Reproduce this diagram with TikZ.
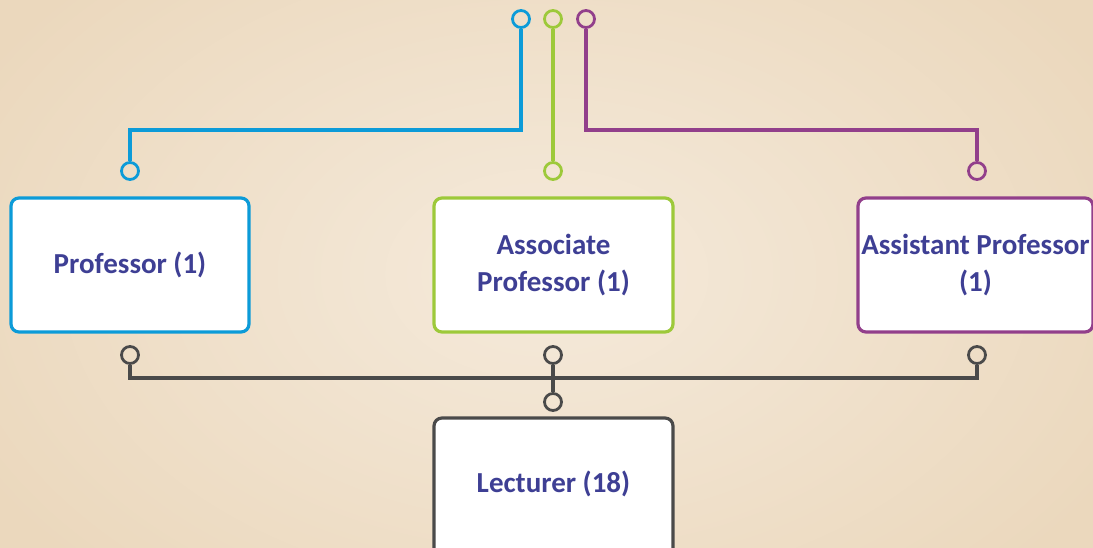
\documentclass[tikz,border=0pt]{standalone}
\usepackage{fontspec}
\setmainfont{Carlito}
\definecolor{cblue}{HTML}{0C9BD8}
\definecolor{cgreen}{HTML}{9DC93A}
\definecolor{cpurple}{HTML}{923F8B}
\definecolor{cgray}{HTML}{4A4A4A}
\definecolor{ctext}{HTML}{3E3F94}
\definecolor{bgin}{HTML}{F5EADB}
\definecolor{bgout}{HTML}{EBD8BD}
\begin{document}
\begin{tikzpicture}[x=1pt,y=-1pt,
  box/.style={line width=3.2pt,rounded corners=8pt,fill=white,inner sep=0pt,
    text=ctext,font=\fontsize{29}{37}\selectfont\bfseries,align=center},
  ring/.style={draw,circle,line width=2.8pt,minimum size=17pt,inner sep=0pt},
  conn/.style={line width=3.3pt}]
\useasboundingbox (0,0) rectangle (1093,548);
\clip (0,0) rectangle (1093,548);
\shade[inner color=bgin,outer color=bgout] (-100,-150) rectangle (1193,698);
% top rings
\node[ring,draw=cblue] (tb) at (521,19) {};
\node[ring,draw=cgreen] (tg) at (553,19) {};
\node[ring,draw=cpurple] (tp) at (586,19) {};
% upper rings of boxes
\node[ring,draw=cblue] (pt) at (130,171) {};
\node[ring,draw=cgreen] (at) at (553,171) {};
\node[ring,draw=cpurple] (st) at (977,171) {};
\coordinate (bj) at (130,130);
\coordinate (pj) at (977,130);
\draw[conn,cblue] (tb.south) |- (bj) -- (pt.north);
\draw[conn,cgreen] (tg.south) -- (at.north);
\draw[conn,cpurple] (tp.south) |- (pj) -- (st.north);
% boxes
\node[box,draw=cblue,minimum width=238pt,minimum height=134pt] (prof) at (130,265) {Professor (1)};
\node[box,draw=cgreen,minimum width=239pt,minimum height=134pt] (assoc) at (553.5,265) {Associate\\Professor (1)};
\node[box,draw=cpurple,minimum width=235pt,minimum height=134pt] (asst) at (975.5,265) {Assistant Professor\\(1)};
\node[box,draw=cgray,minimum width=239pt,minimum height=150pt] (lect) at (553.5,493) {};
\node[text=ctext,font=\fontsize{29}{37}\selectfont\bfseries] (lectt) at (553.5,484) {Lecturer (18)};
% bottom rings
\node[ring,draw=cgray] (pb) at (130,355) {};
\node[ring,draw=cgray] (ab) at (553,355) {};
\node[ring,draw=cgray] (sb) at (977,355) {};
\node[ring,draw=cgray] (lc) at (553,402) {};
\coordinate (gl) at (130,378);
\coordinate (gr) at (977,378);
\draw[conn,cgray] (pb.south) -- (gl) -- (gr) -- (sb.south);
\draw[conn,cgray] (ab.south) -- (lc.north);
\end{tikzpicture}
\end{document}
